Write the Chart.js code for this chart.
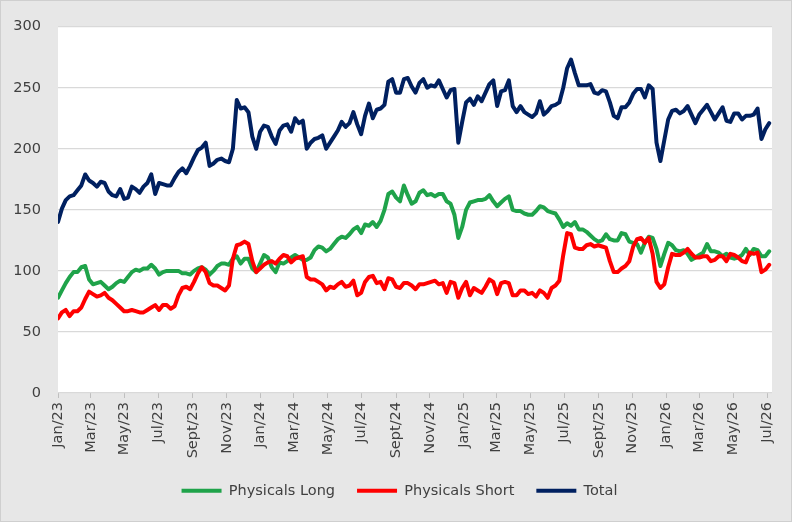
<!DOCTYPE html>
<html>
<head>
<meta charset="utf-8">
<script src="https://cdn.jsdelivr.net/npm/chart.js@4.4.1/dist/chart.umd.min.js"></script>
<style>
  html, body { margin: 0; padding: 0; background: #e7e7e7; }
  #frame {
    position: relative;
    width: 792px;
    height: 522px;
    box-sizing: border-box;
    border: 1px solid #cfcfcf;
    background: #e7e7e7;
  }
</style>
</head>
<body>
<div id="frame"><canvas id="chart"></canvas></div>
<script>
// Weekly series, first week = Jan/23, one value per week
const totalValues = [
  140,151,158,161,162,166,170,179,174,172,169,173,
  172,165,162,161,167,159,160,169,167,164,169,172,
  179,163,172,171,170,170,176,181,184,180,186,193,
  199,201,205,186,188,191,192,190,189,200,240,233,
  234,230,210,200,214,219,218,210,204,215,219,220,
  214,225,221,223,200,205,208,209,211,200,205,210,
  215,222,218,221,230,220,212,227,237,225,232,233,
  236,255,257,246,246,257,258,251,246,254,257,250,
  252,251,256,249,242,248,249,205,222,238,241,236,
  243,239,246,253,256,235,247,248,256,235,230,235,
  230,228,226,229,239,228,231,235,236,238,250,266,
  273,262,252,252,252,253,246,245,248,247,238,227,
  225,234,234,238,245,249,249,242,252,249,205,190,
  207,224,231,232,229,231,235,228,221,228,232,236,
  230,224,229,234,223,222,229,229,224,227,227,228,
  233,208,216,221
];

const longValues = [
  78,84,90,95,99,99,103,104,93,89,90,91,
  88,85,87,90,92,91,95,99,101,100,102,102,
  105,102,97,99,100,100,100,100,98,98,97,100,
  102,103,101,97,100,104,106,106,105,110,112,106,
  110,110,102,99,106,113,111,103,99,107,106,108,
  111,113,111,109,109,111,117,120,119,116,118,122,
  126,128,127,130,134,136,131,138,137,140,136,141,
  150,163,165,160,157,170,162,155,157,164,166,162,
  163,161,163,163,157,155,146,127,136,150,156,157,
  158,158,159,162,157,153,156,159,161,150,149,149,
  147,146,146,149,153,152,149,148,147,142,136,139,
  137,140,134,134,132,129,126,124,125,130,126,125,
  125,131,130,124,123,122,115,123,128,127,118,104,
  114,123,121,117,116,117,114,109,111,113,115,122,
  116,116,115,112,114,111,110,111,113,118,113,118,
  117,112,112,116
];

const shortValues = [
  61,66,68,63,67,67,70,77,83,81,79,80,
  82,78,76,73,70,67,67,68,67,66,66,68,
  70,72,68,72,72,69,71,80,86,87,85,91,
  98,103,99,90,88,88,86,84,88,110,121,122,
  124,122,108,99,102,105,107,108,106,110,113,112,
  107,110,111,112,95,93,93,91,89,84,87,86,
  89,91,87,88,92,80,82,91,95,96,90,91,
  85,94,93,87,86,90,90,88,85,89,89,90,
  91,92,89,90,82,91,90,78,86,91,80,86,
  84,82,87,93,91,81,90,91,90,80,80,84,
  84,81,82,79,84,82,78,86,88,92,113,131,
  130,119,118,118,121,122,120,121,120,119,108,99,
  99,102,104,108,120,126,127,123,127,114,91,86,
  89,103,114,113,113,115,118,114,111,111,112,112,
  108,109,112,112,108,114,113,111,108,107,115,114,
  115,99,101,105
];

// x-axis ticks: days since 1 Jan 2023 for every second month
const tickDays = [0,59,120,181,243,304,365,425,486,547,609,670,731,790,851,912,974,1035,1096,1155,1216,1277];
const tickLabels = ['Jan/23','Mar/23','May/23','Jul/23','Sept/23','Nov/23',
                    'Jan/24','Mar/24','May/24','Jul/24','Sept/24','Nov/24',
                    'Jan/25','Mar/25','May/25','Jul/25','Sept/25','Nov/25',
                    'Jan/26','Mar/26','May/26','Jul/26'];

const yTicks = [0, 50, 100, 150, 200, 250, 300];

const textColor = '#404040';
const textFont = { family: 'DejaVu Sans', size: 14.5 };

function weekly(values) {
    return values.map((v, i) => ({ x: i * 7, y: v }));
}

// white plot area on the grey frame
const plotBackground = {
    id: 'plotBackground',
    beforeDraw(chart) {
        const { ctx, chartArea } = chart;
        ctx.save();
        ctx.fillStyle = '#ffffff';
        ctx.fillRect(chartArea.left, chartArea.top, chartArea.right - chartArea.left, chartArea.bottom - chartArea.top);
        ctx.restore();
    }
};

// legend sits centred under the plot area rather than the whole canvas
const legendShift = {
    id: 'legendShift',
    afterLayout(chart) {
        if (chart.legend) {
            chart.legend.left += 13;
            chart.legend.right += 13;
        }
    }
};

const lineStyle = {
    borderWidth: 4,
    pointRadius: 0,
    tension: 0,
    borderJoinStyle: 'round',
    borderCapStyle: 'round',
    fill: false
};

new Chart(document.getElementById('chart'), {
    type: 'line',
    data: {
        datasets: [
            { label: 'Physicals Long', data: weekly(longValues), borderColor: '#1fa34a', backgroundColor: '#1fa34a', order: 3, ...lineStyle },
            { label: 'Physicals Short', data: weekly(shortValues), borderColor: '#ff0000', backgroundColor: '#ff0000', order: 2, ...lineStyle },
            { label: 'Total', data: weekly(totalValues), borderColor: '#002060', backgroundColor: '#002060', order: 1, ...lineStyle }
        ]
    },
    options: {
        responsive: true,
        maintainAspectRatio: false,
        animation: false,
        layout: { padding: { top: 22, right: 19, bottom: 13, left: 0 } },
        plugins: {
            tooltip: { enabled: false },
            legend: {
                position: 'bottom',
                labels: {
                    usePointStyle: true,
                    pointStyle: 'line',
                    pointStyleWidth: 40,
                    padding: 22,
                    color: textColor,
                    font: textFont,
                    sort: (a, b) => a.datasetIndex - b.datasetIndex
                }
            }
        },
        scales: {
            x: {
                type: 'linear',
                min: 0,
                max: 1286,
                afterBuildTicks: s => { s.ticks = tickDays.map(v => ({ value: v })); },
                afterFit: s => { s.height = 68.5; },
                grid: { drawOnChartArea: false, drawTicks: true, tickLength: 5, color: '#bfbfbf' },
                border: { display: false },
                ticks: {
                    autoSkip: false,
                    minRotation: 90,
                    maxRotation: 90,
                    padding: 4,
                    color: textColor,
                    font: textFont,
                    callback: v => tickLabels[tickDays.indexOf(v)]
                }
            },
            y: {
                min: 0,
                max: 300,
                afterBuildTicks: s => { s.ticks = yTicks.map(v => ({ value: v })); },
                afterFit: s => { s.width = 57; },
                grid: { color: '#d9d9d9', lineWidth: 1.3, drawTicks: false },
                border: { display: false },
                ticks: { padding: 17, color: textColor, font: textFont }
            }
        }
    },
    plugins: [plotBackground, legendShift]
});
</script>
</body>
</html>
